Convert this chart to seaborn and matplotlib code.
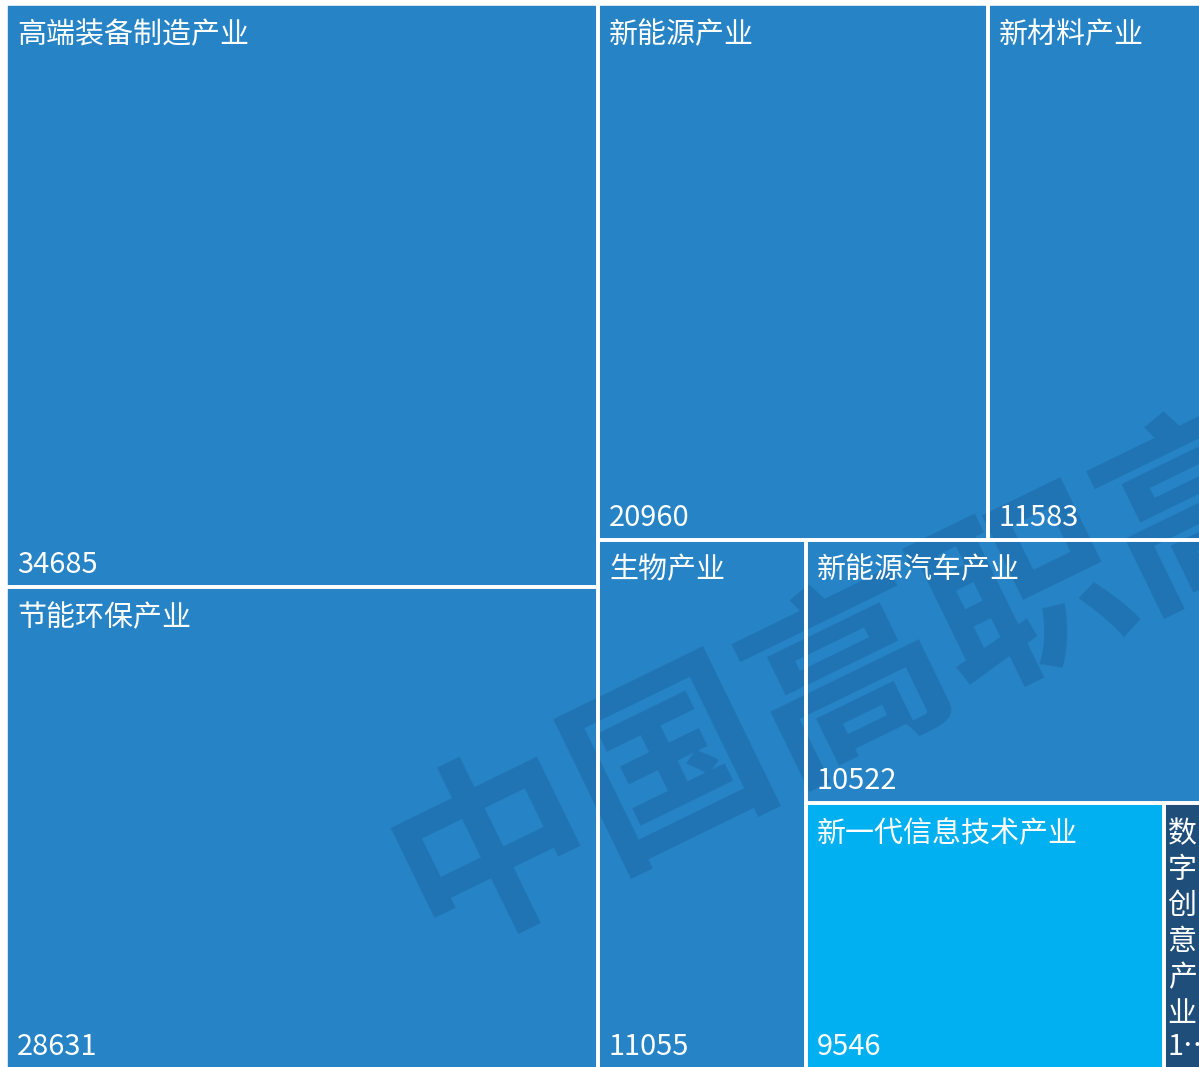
import matplotlib
matplotlib.use("Agg")
import matplotlib.pyplot as plt
from matplotlib.patches import Rectangle
import seaborn as sns

# Output value of each strategic emerging industry
industries = ["高端装备制造产业", "节能环保产业", "新能源产业", "新材料产业",
              "生物产业", "新能源汽车产业", "新一代信息技术产业", "数字创意产业"]
values = [34685, 28631, 20960, 11583, 11055, 10522, 9546, 1050]
tile_colors = ["#2683C6", "#2683C6", "#2683C6", "#2683C6",
               "#2683C6", "#2683C6", "#00B0F0", "#1E4E79"]

sns.set_theme(style="white")
plt.rcParams["font.family"] = ["Noto Sans CJK SC", "DejaVu Sans"]

W_PX, H_PX, DPI = 1199, 1067, 100
FONT_PX = 29
FONT_PT = FONT_PX * 72 / DPI


def binary_treemap(vals, x0, y0, x1, y1):
    """Balanced binary partition treemap (same rule as d3.treemapBinary)."""
    sums = [0]
    for v in vals:
        sums.append(sums[-1] + v)
    rects = [None] * len(vals)

    def part(i, j, value, x0, y0, x1, y1):
        if i >= j - 1:
            rects[i] = (x0, y0, x1, y1)
            return
        offset = sums[i]
        target = value / 2 + offset
        k, hi = i + 1, j - 1
        while k < hi:
            mid = (k + hi) // 2
            if sums[mid] < target:
                k = mid + 1
            else:
                hi = mid
        if (target - sums[k - 1]) < (sums[k] - target) and i + 1 < k:
            k -= 1
        left = sums[k] - offset
        right = value - left
        if (x1 - x0) > (y1 - y0):
            xk = (x0 * right + x1 * left) / value
            part(i, k, left, x0, y0, xk, y1)
            part(k, j, right, xk, y0, x1, y1)
        else:
            yk = (y0 * right + y1 * left) / value
            part(i, k, left, x0, y0, x1, yk)
            part(k, j, right, x0, yk, x1, y1)

    part(0, len(vals), sums[-1], x0, y0, x1, y1)
    return rects


fig = plt.figure(figsize=(W_PX / DPI, H_PX / DPI), dpi=DPI)
fig.patch.set_facecolor("white")
ax = fig.add_axes([0, 0, 1, 1])
ax.set_xlim(0, W_PX)
ax.set_ylim(H_PX, 0)
ax.axis("off")

order = sorted(range(len(values)), key=lambda i: -values[i])
tiles = binary_treemap([values[i] for i in order], 6, 4, 1203, 1069)

for idx, (x0, y0, x1, y1) in zip(order, tiles):
    w, h = x1 - x0, y1 - y0
    ax.add_patch(Rectangle((x0, y0), w, h, facecolor=tile_colors[idx],
                           edgecolor="none", zorder=1))
    ax.add_patch(Rectangle((x0, y0), w, h, facecolor="none",
                           edgecolor="white", linewidth=2.6, zorder=3))

    pad = min(11, 0.1 * w)
    per_line = max(1, int((w - 2 * pad) // FONT_PX))
    name = industries[idx]
    lines = [name[p:p + per_line] for p in range(0, len(name), per_line)]
    ax.text(x0 + pad, y0 + 16, "\n".join(lines), ha="left", va="top",
            color="white", fontsize=FONT_PT, linespacing=1.26, zorder=4)

    label = str(values[idx])
    avail = w - pad
    if len(label) * 0.55 * FONT_PX > avail:
        n = max(1, int((avail - 0.55 * FONT_PX) // (0.55 * FONT_PX)))
        label = label[:n] + "…"
    ax.text(x0 + pad, y1 - 14, label, ha="left", va="baseline",
            color="white", fontsize=FONT_PT, zorder=4)

# Site watermark
ax.text(850, 680, "中国高职高", rotation=26, rotation_mode="anchor",
        ha="center", va="center", fontsize=142, fontweight="bold",
        color="#0b3a66", alpha=0.2, zorder=2)

fig.savefig("out.png", dpi=DPI, facecolor=fig.get_facecolor())
